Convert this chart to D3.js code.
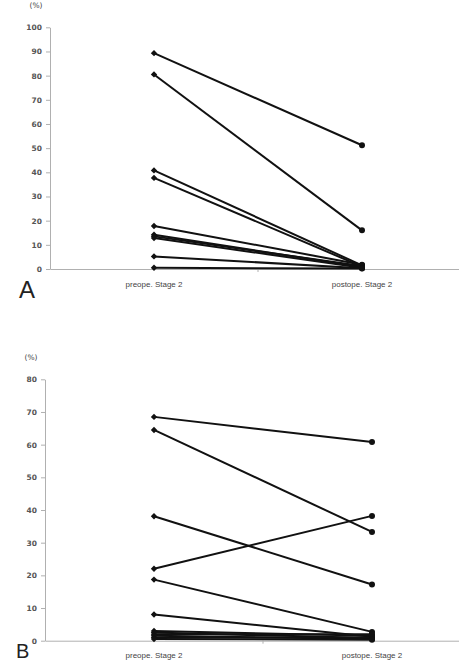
<!DOCTYPE html>
<html>
<head>
<meta charset="utf-8">
<script src="https://cdn.jsdelivr.net/npm/d3@7"></script>
<style>
  body { margin: 0; background: #fff; }
  svg { display: block; }
</style>
</head>
<body>
<div id="chart"></div>
<script>
// categories on the x axis
const categories = ["preope. Stage 2", "postope. Stage 2"];

// Panel A values (%), one entry per patient
const aTicks = [0, 10, 20, 30, 40, 50, 60, 70, 80, 90, 100];
const aPre = [89.3, 80.5, 40.8, 37.7, 17.8, 14.2, 13.5, 12.8, 5.2, 0.5];
const aPost = [51.2, 16.0, 1.5, 1.0, 1.8, 0.8, 1.2, 0.5, 0.3, 0.2];

// Panel B values (%)
const bTicks = [0, 10, 20, 30, 40, 50, 60, 70, 80];
const bPre = [68.5, 64.5, 38.1, 22.0, 18.7, 8.0, 3.0, 2.5, 2.0, 1.5, 1.0, 0.5];
const bPost = [60.8, 33.3, 17.2, 38.2, 2.7, 1.2, 1.5, 0.8, 2.0, 0.5, 1.0, 0.3];

const width = 459, height = 663;

const svg = d3.select("#chart")
  .append("svg")
  .attr("width", width)
  .attr("height", height);

function drawPanel(opts) {
  const x = d3.scaleBand().domain(categories).range([opts.left, opts.right]);
  const y = d3.scaleLinear().domain([0, opts.max]).range([opts.bottom, opts.top]);
  const g = svg.append("g");

  // y axis
  const yAxis = g.append("g")
    .attr("transform", `translate(${opts.left},0)`)
    .call(d3.axisLeft(y).tickValues(opts.ticks).tickSize(4).tickSizeOuter(0).tickPadding(4));
  yAxis.select(".domain").attr("stroke", "#b0b0b0");
  yAxis.selectAll(".tick line").attr("stroke", "#b0b0b0");
  yAxis.selectAll(".tick text")
    .attr("fill", "#555")
    .style("font-family", "DejaVu Sans, sans-serif")
    .style("font-size", "7.5px")
    .style("font-weight", "bold");

  // x axis
  const xAxis = g.append("g")
    .attr("transform", `translate(0,${opts.bottom})`)
    .call(d3.axisBottom(x).tickSize(0).tickPadding(12));
  xAxis.select(".domain").attr("stroke", "#b0b0b0");
  xAxis.selectAll(".tick text")
    .attr("fill", "#444")
    .style("font-family", "Liberation Sans, sans-serif")
    .style("font-size", "8px");
  // tick between the two categories
  g.append("line")
    .attr("x1", x(categories[1])).attr("x2", x(categories[1]))
    .attr("y1", opts.bottom).attr("y2", opts.bottom + 3)
    .attr("stroke", "#b0b0b0");

  // unit label
  g.append("text")
    .attr("x", opts.left - 14)
    .attr("y", opts.top - 19)
    .attr("text-anchor", "middle")
    .attr("fill", "#444")
    .style("font-family", "DejaVu Sans, sans-serif")
    .style("font-size", "7.5px")
    .text("(%)");

  // panel letter
  g.append("text")
    .attr("x", opts.letterX)
    .attr("y", opts.letterY)
    .attr("fill", "#222")
    .style("font-family", "Liberation Sans, sans-serif")
    .style("font-size", opts.letterSize + "px")
    .text(opts.letter);

  const cx = c => x(c) + x.bandwidth() / 2;
  const pairs = opts.pre.map((v, i) => [v, opts.post[i]]);

  const line = d3.line()
    .x((d, i) => cx(categories[i]))
    .y(d => y(d));

  g.selectAll(".pair")
    .data(pairs)
    .enter().append("path")
    .attr("class", "pair")
    .attr("fill", "none")
    .attr("stroke", "#111")
    .attr("stroke-width", 2)
    .attr("d", line);

  // preope markers (diamonds)
  g.selectAll(".pre")
    .data(opts.pre)
    .enter().append("path")
    .attr("class", "pre")
    .attr("transform", d => `translate(${cx(categories[0])},${y(d)})`)
    .attr("d", d3.symbol(d3.symbolDiamond2 || d3.symbolDiamond, 26))
    .attr("fill", "#111");

  // postope markers (circles)
  g.selectAll(".post")
    .data(opts.post)
    .enter().append("circle")
    .attr("class", "post")
    .attr("cx", cx(categories[1]))
    .attr("cy", d => y(d))
    .attr("r", 3)
    .attr("fill", "#111");
}

drawPanel({
  left: 50, right: 466, top: 27.3, bottom: 269, max: 100,
  ticks: aTicks, pre: aPre, post: aPost,
  letter: "A", letterX: 19, letterY: 297.5, letterSize: 24
});

drawPanel({
  left: 45, right: 481, top: 379.3, bottom: 640.7, max: 80,
  ticks: bTicks, pre: bPre, post: bPost,
  letter: "B", letterX: 16, letterY: 658, letterSize: 20
});
</script>
</body>
</html>
